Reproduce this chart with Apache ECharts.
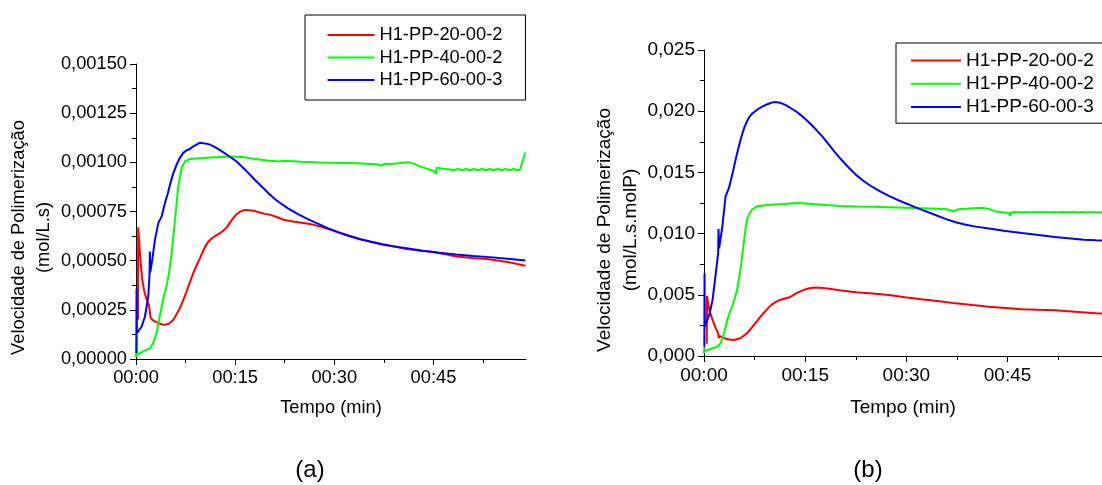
<!DOCTYPE html>
<html><head><meta charset="utf-8">
<script src="https://cdn.jsdelivr.net/npm/echarts@6/dist/echarts.min.js"></script>
<style>html,body{margin:0;padding:0;background:#fff}#c{width:1102px;height:485px}</style>
</head><body><div id="c"></div>
<script>
// ---------- data (time in minutes) ----------
const seriesNames = ['H1-PP-20-00-2', 'H1-PP-40-00-2', 'H1-PP-60-00-3'];
const seriesColors = ['#ff0000', '#00ff00', '#0000ff'];

const xMajorTicks = [0, 15, 30, 45];
const xMinorTicks = [7.5, 22.5, 37.5, 52.5];
const xTickLabels = ['00:00', '00:15', '00:30', '00:45'];
const yTickLabelsA = ['0,00000', '0,00025', '0,00050', '0,00075', '0,00100', '0,00125', '0,00150'];
const yTickLabelsB = ['0,000', '0,005', '0,010', '0,015', '0,020', '0,025'];

// (a) mol/L.s
const tRedA = [0.3, 0.33, 0.5, 0.71, 0.95, 1.26, 1.62, 1.97, 2.2, 2.22, 2.62, 3.0, 3.38, 3.75, 4.13, 4.5, 4.89, 5.25, 5.65, 6.1, 6.66, 7.15, 7.66, 8.15, 8.67, 9.2, 9.68, 10.2, 10.7, 11.2, 11.7, 12.2, 12.7, 13.2, 13.7, 14.2, 14.7, 15.2, 15.8, 16.5, 17.0, 17.5, 18.0, 18.7, 19.5, 20.3, 21.3, 22.3, 24.0, 26.3, 28.0, 29.8, 31.8, 33.8, 35.6, 37.4, 39.1, 40.9, 43.0, 45.0, 46.8, 48.5, 50.8, 53.1, 55.0, 56.6, 58.9];
const vRedA = [0.00020, 0.00067, 0.000589, 0.000488, 0.000403, 0.000343, 0.000301, 0.000271, 0.000262, 0.000208, 0.000196, 0.000189, 0.000183, 0.000178, 0.000174, 0.000175, 0.000178, 0.000187, 0.0002, 0.000225, 0.000259, 0.0003, 0.000343, 0.00039, 0.000437, 0.000478, 0.000513, 0.000553, 0.000585, 0.000605, 0.000619, 0.00063, 0.00064, 0.000652, 0.000668, 0.000692, 0.000716, 0.000735, 0.00075, 0.000758, 0.000757, 0.000755, 0.000752, 0.000745, 0.000738, 0.000733, 0.000722, 0.000708, 0.000698, 0.000687, 0.000672, 0.000653, 0.000632, 0.00061, 0.000595, 0.000581, 0.000572, 0.000559, 0.000551, 0.000544, 0.000532, 0.000521, 0.000514, 0.000508, 0.000499, 0.000491, 0.000474];

const tGreenA = [0, 0.1, 0.15, 0.2, 0.6, 1.1, 1.6, 2.1, 2.6, 3.1, 3.6, 4.1, 4.6, 5.0, 5.4, 5.9, 6.4, 6.9, 7.4, 8.2, 9.0, 10.2, 11.2, 12.2, 13.2, 14.2, 15.2, 16.2, 17.5, 18.7, 20.2, 21.5, 22.5, 25.0, 28.0, 31.0, 33.5, 35.5, 36.5, 37.1, 37.6, 38.4, 40.0, 41.2, 42.1, 43.0, 44.0, 45.0, 45.4, 45.5, 46.5, 47.5, 48.1, 48.7, 49.3, 49.9, 50.5, 51.1, 51.7, 52.3, 52.9, 53.5, 54.1, 54.7, 55.3, 55.9, 56.5, 57.1, 57.7, 58.1, 58.9];
const vGreenA = [0.00001, 0.00002, 0.00012, 0.00002, 0.000029, 0.00004, 0.000046, 0.000054, 0.00008, 0.000131, 0.000216, 0.0003, 0.000368, 0.000436, 0.000538, 0.000708, 0.000878, 0.000971, 0.001005, 0.001017, 0.00102, 0.001022, 0.001024, 0.001026, 0.001028, 0.00103, 0.001029, 0.001027, 0.00102, 0.001014, 0.001008, 0.001004, 0.001008, 0.001003, 0.000999, 0.000997, 0.000995, 0.000992, 0.00099, 0.000982, 0.000993, 0.00099, 0.000997, 0.001001, 0.000992, 0.000979, 0.000968, 0.000958, 0.000941, 0.000973, 0.000968, 0.000964, 0.00096, 0.000966, 0.00096, 0.000966, 0.00096, 0.000966, 0.00096, 0.000966, 0.00096, 0.000966, 0.00096, 0.000966, 0.00096, 0.000966, 0.00096, 0.000966, 0.00096, 0.000962, 0.00105];

const tBlueA = [0.05, 0.08, 0.1, 0.15, 0.4, 0.86, 1.36, 1.86, 2.05, 2.1, 2.15, 2.4, 2.87, 3.37, 3.88, 4.38, 4.8, 5.14, 5.6, 6.14, 6.6, 7.15, 7.6, 8.16, 8.6, 9.16, 9.67, 10.2, 10.7, 11.2, 11.8, 12.4, 13.0, 13.7, 14.3, 15.0, 15.6, 16.2, 16.9, 17.5, 18.0, 18.7, 19.4, 20.2, 21.0, 21.8, 23.0, 24.5, 26.0, 27.5, 29.1, 30.6, 32.1, 33.8, 35.6, 37.3, 39.1, 41.2, 43.4, 45.9, 48.4, 51.0, 53.5, 56.2, 58.9];
const vBlueA = [0.00003, 0.000357, 0.00025, 0.000131, 0.000135, 0.000165, 0.000216, 0.000318, 0.00043, 0.000547, 0.00044, 0.00049, 0.000606, 0.000691, 0.000725, 0.000793, 0.00084, 0.000886, 0.00094, 0.000988, 0.00102, 0.001048, 0.00106, 0.001068, 0.00108, 0.00109, 0.0011, 0.001097, 0.001095, 0.00109, 0.00108, 0.001068, 0.001056, 0.00104, 0.001026, 0.00101, 0.000992, 0.000972, 0.000949, 0.000928, 0.00091, 0.000887, 0.000864, 0.000838, 0.000814, 0.000793, 0.000766, 0.000737, 0.000711, 0.000688, 0.000664, 0.000644, 0.000627, 0.00061, 0.000596, 0.000583, 0.000572, 0.000562, 0.000551, 0.00054, 0.000531, 0.000524, 0.000518, 0.00051, 0.000501];

// (b) mol/L.s.molP
const tRedB = [0.4, 0.45, 0.54, 0.78, 1.27, 1.75, 2.1, 2.2, 2.3, 2.73, 3.46, 4.43, 5.4, 6.38, 7.0, 7.6, 8.2, 8.8, 9.4, 10.0, 10.6, 11.25, 12.0, 12.7, 13.2, 13.7, 14.4, 15.1, 15.8, 16.6, 17.6, 18.6, 20.1, 22.5, 25.0, 27.4, 29.8, 32.2, 34.6, 37.3, 39.8, 42.2, 44.7, 47.1, 49.5, 52.0, 54.5, 56.5, 58.1, 59.0];
const vRedB = [0.001, 0.0049, 0.00486, 0.00377, 0.00295, 0.00226, 0.00186, 0.00145, 0.00165, 0.00153, 0.00136, 0.00131, 0.00145, 0.00186, 0.00225, 0.00267, 0.0031, 0.00349, 0.00385, 0.00418, 0.0044, 0.00458, 0.0047, 0.0048, 0.00495, 0.00513, 0.0053, 0.00546, 0.00556, 0.0056, 0.00556, 0.0055, 0.00537, 0.0052, 0.0051, 0.00498, 0.0048, 0.00463, 0.0045, 0.0043, 0.00416, 0.00403, 0.00392, 0.00381, 0.00377, 0.00373, 0.00364, 0.00356, 0.00349, 0.00347];

const tGreenB = [0.0, 0.05, 0.1, 0.54, 1.27, 2.0, 2.48, 2.97, 3.46, 3.8, 4.19, 4.55, 4.92, 5.15, 5.4, 5.65, 5.9, 6.15, 6.38, 6.7, 7.1, 7.84, 8.8, 9.79, 11.7, 13.7, 15.6, 18.06, 20.1, 22.5, 25.0, 27.4, 29.8, 32.2, 34.6, 36.1, 37.0, 37.5, 39.3, 41.3, 42.3, 43.3, 44.5, 45.2, 45.4, 45.6, 46.3, 47.0, 47.7, 48.4, 49.1, 49.8, 50.5, 51.2, 51.9, 52.6, 53.3, 54.0, 54.7, 55.4, 56.1, 56.8, 57.5, 58.2, 59.0];
const vGreenB = [0.0002, 0.0007, 0.0004, 0.00049, 0.00063, 0.00076, 0.00104, 0.00186, 0.00295, 0.0035, 0.00404, 0.0047, 0.0054, 0.0062, 0.00704, 0.0081, 0.00922, 0.0103, 0.01113, 0.0116, 0.01195, 0.01223, 0.0123, 0.01236, 0.01242, 0.0125, 0.01244, 0.01234, 0.01226, 0.01222, 0.0122, 0.01216, 0.01212, 0.01208, 0.01204, 0.01198, 0.01182, 0.01196, 0.01205, 0.01212, 0.012, 0.0118, 0.01172, 0.0117, 0.01144, 0.01174, 0.01177, 0.01172, 0.01177, 0.01172, 0.01177, 0.01172, 0.01177, 0.01172, 0.01177, 0.01172, 0.01177, 0.01172, 0.01177, 0.01172, 0.01177, 0.01172, 0.01177, 0.01172, 0.01175];

const tBlueB = [0.05, 0.08, 0.12, 0.3, 0.78, 1.27, 1.75, 2.1, 2.15, 2.25, 2.73, 3.2, 3.7, 4.19, 4.55, 4.92, 5.3, 5.65, 6.0, 6.38, 6.7, 7.1, 7.6, 8.08, 8.7, 9.3, 9.8, 10.27, 10.8, 11.25, 11.7, 12.2, 13.0, 13.7, 14.4, 15.1, 15.8, 16.6, 17.6, 18.6, 19.4, 20.1, 21.3, 22.5, 23.7, 24.9, 26.1, 27.4, 28.6, 29.8, 31.0, 32.5, 34.3, 35.9, 37.3, 38.8, 40.3, 42.5, 44.7, 47.1, 49.6, 52.0, 54.4, 56.3, 58.1, 59.0];
const vBlueB = [0.00076, 0.00677, 0.0024, 0.00267, 0.00336, 0.00458, 0.00677, 0.0084, 0.01037, 0.0088, 0.0106, 0.01305, 0.01373, 0.01482, 0.0157, 0.01659, 0.0174, 0.0181, 0.0187, 0.01918, 0.0195, 0.01978, 0.02, 0.0202, 0.0204, 0.02055, 0.02065, 0.02074, 0.02073, 0.02069, 0.0206, 0.02047, 0.0202, 0.01996, 0.01966, 0.01932, 0.01895, 0.0185, 0.0179, 0.0172, 0.01665, 0.0162, 0.01548, 0.01482, 0.01428, 0.01383, 0.01345, 0.01308, 0.01278, 0.0125, 0.01222, 0.0119, 0.01152, 0.01118, 0.01093, 0.01072, 0.01057, 0.0104, 0.01022, 0.01005, 0.00988, 0.00972, 0.0096, 0.0095, 0.00945, 0.00943];

// ---------- chart ----------
const FONT = 'Liberation Sans';
const TXT = '#000';
function zip(t, v) { return t.map((x, i) => [x, v[i]]); }

function xAxesFor(gridIndex, nameGap, fs) {
  return [{
    type: 'value', gridIndex: gridIndex, min: 0, max: 59, position: 'bottom',
    name: 'Tempo (min)', nameLocation: 'middle', nameGap: nameGap,
    nameTextStyle: { fontSize: fs, color: TXT, fontFamily: FONT },
    axisLine: { show: true, onZero: false, lineStyle: { color: '#000', width: 1 } },
    axisTick: { show: true, customValues: xMajorTicks, length: 6, lineStyle: { color: '#000' } },
    axisLabel: { show: true, customValues: xMajorTicks, margin: 10, fontSize: fs, color: TXT, fontFamily: FONT,
      formatter: v => xTickLabels[xMajorTicks.indexOf(v)] },
    splitLine: { show: false }
  }, {
    type: 'value', gridIndex: gridIndex, min: 0, max: 59, position: 'bottom',
    axisLine: { show: false, onZero: false },
    axisTick: { show: true, customValues: xMinorTicks, length: 4, lineStyle: { color: '#000' } },
    axisLabel: { show: false }, splitLine: { show: false }
  }];
}

function yAxisFor(gridIndex, max, interval, labels, unit, nameGap, padR, fs, lh) {
  return {
    type: 'value', gridIndex: gridIndex, min: 0, max: max, interval: interval,
    name: 'Velocidade de Polimerização\n' + unit, nameLocation: 'middle', nameGap: nameGap,
    nameTextStyle: { fontSize: fs, color: TXT, fontFamily: FONT, lineHeight: lh, padding: [0, padR, 0, 0] },
    axisLine: { show: true, onZero: false, lineStyle: { color: '#000', width: 1 } },
    axisTick: { show: true, length: 6, lineStyle: { color: '#000' } },
    minorTick: { show: true, splitNumber: 2, length: 4, lineStyle: { color: '#000' } },
    axisLabel: { margin: 9, fontSize: fs, color: TXT, fontFamily: FONT,
      formatter: v => labels[Math.round(v / interval)] },
    splitLine: { show: false }, minorSplitLine: { show: false }
  };
}

function legendAt(left, top, lineH, padding, itemWidth, fs) {
  return {
    data: seriesNames, orient: 'vertical', left: left, top: top,
    itemWidth: itemWidth, itemHeight: 2, itemGap: 0, padding: padding,
    borderColor: '#000', borderWidth: 1, backgroundColor: '#fff',
    selectedMode: false,
    itemStyle: { opacity: 0 },
    textStyle: { fontSize: fs, color: TXT, fontFamily: FONT, lineHeight: lineH }
  };
}

function lineSeries(k, xi, yi, t, v) {
  return {
    type: 'line', name: seriesNames[k], xAxisIndex: xi, yAxisIndex: yi,
    data: zip(t, v), symbol: 'none', showSymbol: false,
    lineStyle: { width: 2, color: seriesColors[k] }, itemStyle: { color: seriesColors[k] },
    emphasis: { disabled: true }
  };
}

const chart = echarts.init(document.getElementById('c'), null, { renderer: 'canvas' });
chart.setOption({
  animation: false,
  backgroundColor: '#fff',
  textStyle: { fontFamily: FONT },
  grid: [
    { left: 136, top: 64, width: 390, height: 295 },
    { left: 704, top: 50, width: 404, height: 306 }
  ],
  xAxis: xAxesFor(0, 40, 18.3).concat(xAxesFor(1, 42, 19)),
  yAxis: [
    yAxisFor(0, 0.0015, 0.00025, yTickLabelsA, '(mol/L.s)', 80, 52, 18.3, 25),
    yAxisFor(1, 0.025, 0.005, yTickLabelsB, '(mol/L.s.molP)', 60, 54, 19, 26)
  ],
  legend: [
    legendAt(305, 15, 22.5, [8.75, 23, 8.75, 21.5], 47, 18.3),
    legendAt(896, 43, 23.3, [5.8, 9, 4.5, 14], 50, 19)
  ],
  series: [
    lineSeries(0, 0, 0, tRedA, vRedA),
    lineSeries(1, 0, 0, tGreenA, vGreenA),
    lineSeries(2, 0, 0, tBlueA, vBlueA),
    lineSeries(0, 2, 1, tRedB, vRedB),
    lineSeries(1, 2, 1, tGreenB, vGreenB),
    lineSeries(2, 2, 1, tBlueB, vBlueB)
  ],
  graphic: [
    { type: 'text', x: 310, y: 470, style: { text: '(a)', fontSize: 24, fontFamily: FONT, fill: TXT, align: 'center', verticalAlign: 'middle' } },
    { type: 'text', x: 868, y: 470, style: { text: '(b)', fontSize: 24, fontFamily: FONT, fill: TXT, align: 'center', verticalAlign: 'middle' } }
  ]
});
</script>
</body></html>
